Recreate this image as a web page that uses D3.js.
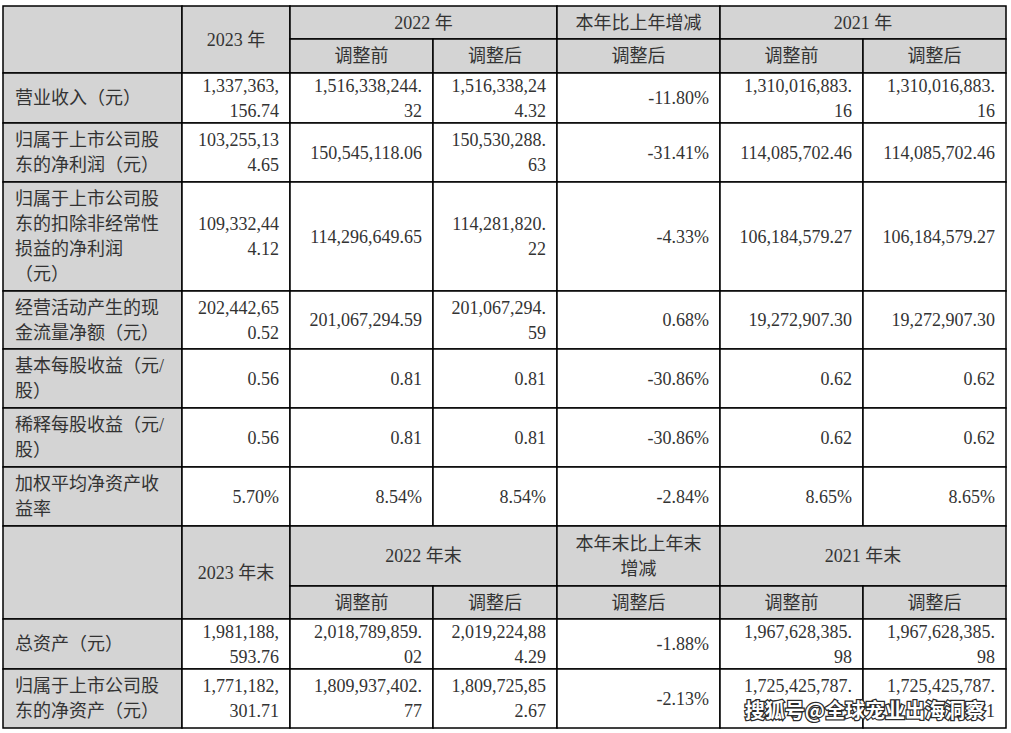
<!DOCTYPE html>
<html>
<head>
<meta charset="utf-8">
<script src="https://cdn.jsdelivr.net/npm/d3@7"></script>
<style>
  body { margin: 0; background: #fff; }
</style>
</head>
<body>
<svg class="table-svg"></svg>
<script>
// Table data (line breaks are kept as in the source report)
const periods1 = ["2023 年", "2022 年", "本年比上年增减", "2021 年"];
const periods2 = ["2023 年末", "2022 年末", "本年末比上年末\n增减", "2021 年末"];
const adjustLabels = ["调整前", "调整后", "调整后", "调整前", "调整后"];

const labels1 = [
  "营业收入（元）",
  "归属于上市公司股\n东的净利润（元）",
  "归属于上市公司股\n东的扣除非经常性\n损益的净利润\n（元）",
  "经营活动产生的现\n金流量净额（元）",
  "基本每股收益（元/\n股）",
  "稀释每股收益（元/\n股）",
  "加权平均净资产收\n益率"
];
const y2023 = ["1,337,363,\n156.74", "103,255,13\n4.65", "109,332,44\n4.12", "202,442,65\n0.52", "0.56", "0.56", "5.70%"];
const y2022Before = ["1,516,338,244.\n32", "150,545,118.06", "114,296,649.65", "201,067,294.59", "0.81", "0.81", "8.54%"];
const y2022After = ["1,516,338,24\n4.32", "150,530,288.\n63", "114,281,820.\n22", "201,067,294.\n59", "0.81", "0.81", "8.54%"];
const yoyChange = ["-11.80%", "-31.41%", "-4.33%", "0.68%", "-30.86%", "-30.86%", "-2.84%"];
const y2021Before = ["1,310,016,883.\n16", "114,085,702.46", "106,184,579.27", "19,272,907.30", "0.62", "0.62", "8.65%"];
const y2021After = ["1,310,016,883.\n16", "114,085,702.46", "106,184,579.27", "19,272,907.30", "0.62", "0.62", "8.65%"];

const labels2 = ["总资产（元）", "归属于上市公司股\n东的净资产（元）"];
const end2023 = ["1,981,188,\n593.76", "1,771,182,\n301.71"];
const end2022Before = ["2,018,789,859.\n02", "1,809,937,402.\n77"];
const end2022After = ["2,019,224,88\n4.29", "1,809,725,85\n2.67"];
const endChange = ["-1.88%", "-2.13%"];
const end2021Before = ["1,967,628,385.\n98", "1,725,425,787.\n71"];
const end2021After = ["1,967,628,385.\n98", "1,725,425,787.\n71"];

const watermark = "搜狐号@全球宠业出海洞察";

// Layout
const width = 1011, height = 733;
const colEdges = [3, 182, 290, 433, 557, 720, 863, 1006];
const rowEdges = [6, 39, 73, 123, 182, 291, 349, 408, 467, 526, 586, 619, 669, 728];
const lineHeight = 25;
const gray = "#d4d4d4";
const ink = "#333";

const x = d3.scaleLinear().domain(d3.range(colEdges.length)).range(colEdges);
const y = d3.scaleLinear().domain(d3.range(rowEdges.length)).range(rowEdges);

// Build the list of cells
const cells = [];
function header(top, periods) {
  cells.push({ c: [0, 1], r: [top, top + 2], text: "", fill: gray });
  cells.push({ c: [1, 2], r: [top, top + 2], text: periods[0], fill: gray, align: "middle" });
  cells.push({ c: [2, 4], r: [top, top + 1], text: periods[1], fill: gray, align: "middle" });
  cells.push({ c: [4, 5], r: [top, top + 1], text: periods[2], fill: gray, align: "middle" });
  cells.push({ c: [5, 7], r: [top, top + 1], text: periods[3], fill: gray, align: "middle" });
  adjustLabels.forEach((t, i) =>
    cells.push({ c: [2 + i, 3 + i], r: [top + 1, top + 2], text: t, fill: gray, align: "middle" }));
}
function body(top, labels, cols) {
  labels.forEach((lab, i) => {
    cells.push({ c: [0, 1], r: [top + i, top + i + 1], text: lab, fill: gray, align: "start" });
    cols.forEach((col, j) =>
      cells.push({ c: [1 + j, 2 + j], r: [top + i, top + i + 1], text: col[i], fill: "#fff", align: "end" }));
  });
}
header(0, periods1);
body(2, labels1, [y2023, y2022Before, y2022After, yoyChange, y2021Before, y2021After]);
header(9, periods2);
body(11, labels2, [end2023, end2022Before, end2022After, endChange, end2021Before, end2021After]);

const svg = d3.select(".table-svg")
  .attr("width", width)
  .attr("height", height)
  .style("font-family", "'Liberation Serif', 'Noto Sans CJK SC', serif")
  .style("font-size", "18px");

svg.append("rect").attr("width", width).attr("height", height).attr("fill", "#fff");

const cell = svg.append("g").selectAll("g")
  .data(cells)
  .enter().append("g");

cell.append("rect")
  .attr("x", d => x(d.c[0]))
  .attr("y", d => y(d.r[0]))
  .attr("width", d => x(d.c[1]) - x(d.c[0]))
  .attr("height", d => y(d.r[1]) - y(d.r[0]))
  .attr("fill", d => d.fill)
  .attr("stroke", "#000")
  .attr("stroke-width", 1.5);

cell.append("text")
  .attr("fill", ink)
  .attr("text-anchor", d => d.align || "middle")
  .each(function(d) {
    const lines = d.text.split("\n");
    const cy = (y(d.r[0]) + y(d.r[1])) / 2;
    let tx;
    if (d.align === "start") tx = x(d.c[0]) + 12;
    else if (d.align === "end") tx = x(d.c[1]) - 11;
    else tx = (x(d.c[0]) + x(d.c[1])) / 2;
    d3.select(this).selectAll("tspan")
      .data(lines)
      .enter().append("tspan")
        .attr("x", tx)
        .attr("y", (l, i) => cy + (i - (lines.length - 1) / 2) * lineHeight)
        .attr("dy", "0.35em")
        .text(l => l);
  });

// Watermark in the bottom right corner (sits over the last row, as in the source image)
svg.append("text")
  .attr("x", 985)
  .attr("y", 711)
  .attr("dy", "0.35em")
  .attr("text-anchor", "end")
  .style("font-family", "'Noto Sans CJK SC', sans-serif")
  .style("font-size", "20px")
  .style("font-weight", "bold")
  .attr("fill", "#fff")
  .attr("stroke", "#2a2a2a")
  .attr("stroke-width", 2.5)
  .attr("paint-order", "stroke")
  .text(watermark);
</script>
</body>
</html>
